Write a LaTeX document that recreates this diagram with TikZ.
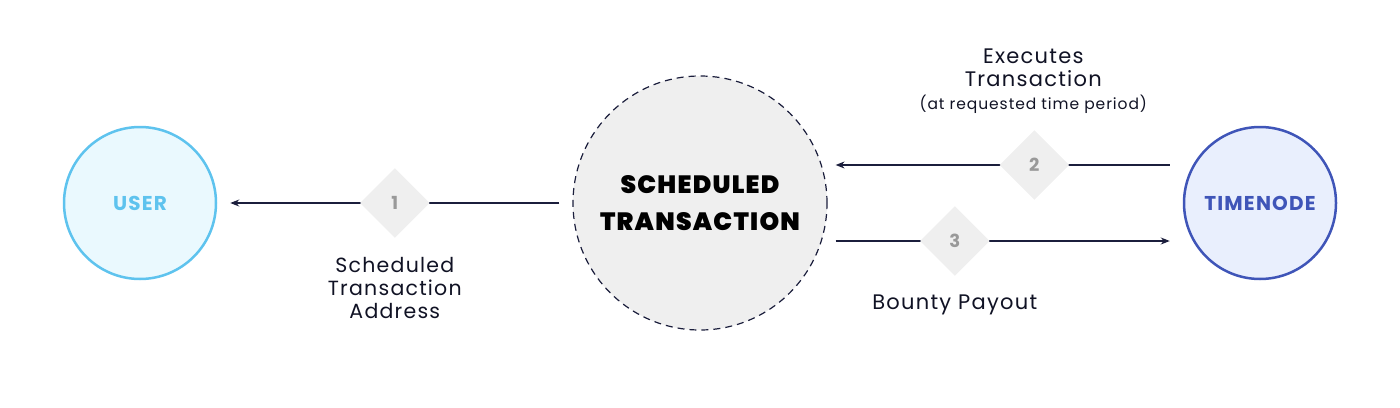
\documentclass[tikz,border=0pt]{standalone}
\usepackage{fontspec}
\setmainfont{Poppins}[LetterSpace=6]
\newfontfamily\schwer{Poppins Black}[LetterSpace=5]
\usetikzlibrary{positioning,shapes.geometric,arrows.meta}
\definecolor{userblau}{HTML}{5EC3EE}
\definecolor{userfill}{HTML}{EAF9FE}
\definecolor{tnblau}{HTML}{3F55B8}
\definecolor{tnfill}{HTML}{E9EFFD}
\definecolor{navy}{HTML}{1B1E3C}
\definecolor{grau}{HTML}{EFEFEF}
\begin{document}
\begin{tikzpicture}[x=1pt,y=-1pt,
		kreis/.style={circle,inner sep=0pt,line width=2.5pt,font=\fontsize{20}{22}\selectfont\bfseries},
		raute/.style={diamond,fill=grau,inner sep=0pt,minimum width=70pt,minimum height=70pt,text=gray!80,font=\fontsize{18}{20}\selectfont\bfseries},
		pfeil/.style={draw=navy,line width=1.2pt,-{Stealth[length=9pt,width=7pt]}},
		beschr/.style={align=center,text=navy!60!black,font=\fontsize{21}{23}\selectfont}]
		\useasboundingbox (0,0) rectangle (1400,407);
		% Knoten
		\node (user) at (140,203) [kreis,draw=userblau,fill=userfill,text=userblau,minimum size=152pt] {USER};
		\node (sched) at (700,203) [kreis,draw=navy,fill=grau,line width=1.2pt,dash pattern=on 7pt off 5pt,minimum size=254pt,align=center,font=\fontsize{25}{37}\schwer] {SCHEDULED\\TRANSACTION};
		\node (tnode) at (1260,203) [kreis,draw=tnblau,fill=tnfill,text=tnblau,minimum size=152pt] {TIMENODE};

		% Kanten
		\draw[pfeil,shorten <=13pt,shorten >=13pt] (sched) -- node[raute] (r1) {1} (user);
		\draw[pfeil,shorten <=13pt,shorten >=8pt] ([yshift=38pt]tnode.west) -- node[raute,pos=0.418] (r2) {2} ([yshift=38pt]sched.east);
		\draw[pfeil,shorten <=8pt,shorten >=13pt] ([yshift=-38pt]sched.east) -- node[raute,pos=0.358] (r3) {3} ([yshift=-38pt]tnode.west);

		% Beschriftung
		\node (adr) [beschr,below=15pt of r1,font=\fontsize{20.5}{23}\selectfont] {Scheduled\\Transaction\\Address};
		\node (bounty) [beschr,below=15pt of r3] {Bounty Payout};
		\node (exec) [beschr,above=12pt of r2,xshift=-1pt] {Executes\\Transaction\\{\fontsize{15.5}{19}\selectfont(at requested time period)}};
	\end{tikzpicture}
\end{document}
